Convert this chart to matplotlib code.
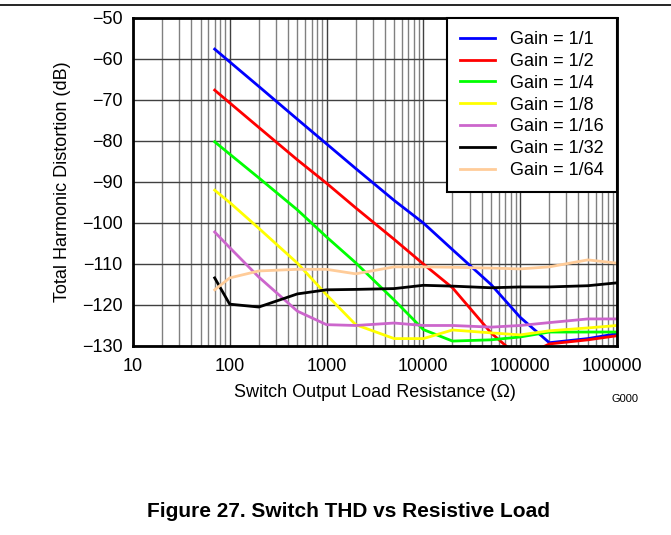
import numpy as np
import matplotlib
matplotlib.use("Agg")
import matplotlib.pyplot as plt
from matplotlib.lines import Line2D
from matplotlib.transforms import Bbox
from matplotlib.ticker import LogLocator, NullFormatter, FixedLocator, FixedFormatter

plt.rcParams['font.family'] = ['Liberation Sans', 'DejaVu Sans']

# load resistance (ohm)
resistance = [70, 100, 200, 500, 1000, 2000, 5000, 10000, 20000,
              50000, 100000, 200000, 500000, 1000000]

thd_1_1 = [-57.6, -60.7, -66.7, -74.7, -80.7, -86.7, -94.5, -100.0, -106.5,
           -115.0, -123.0, -129.2, -128.2, -127.0]
thd_1_2 = [-67.6, -70.7, -76.7, -84.6, -90.3, -96.3, -104.0, -110.0, -115.8,
           -126.8, -133.0, -129.5, -128.5, -127.5]
thd_1_4 = [-80.2, -83.2, -89.0, -96.8, -103.4, -109.7, -118.8, -126.0, -128.8,
           -128.5, -127.8, -126.6, -126.6, -126.6]
thd_1_8 = [-92.0, -95.0, -101.3, -109.8, -117.5, -124.8, -128.2, -128.2, -126.1,
           -126.8, -127.3, -126.3, -125.6, -125.0]
thd_1_16 = [-102.2, -106.0, -113.2, -121.5, -124.8, -125.0, -124.4, -125.0, -125.0,
            -125.4, -125.0, -124.3, -123.4, -123.4]
thd_1_32 = [-113.4, -119.8, -120.5, -117.3, -116.3, -116.2, -116.0, -115.2, -115.4,
            -115.8, -115.6, -115.6, -115.3, -114.6]
thd_1_64 = [-116.3, -113.4, -111.7, -111.3, -111.3, -112.4, -110.7, -110.7, -110.8,
            -111.0, -111.2, -110.7, -109.0, -109.8]

series = [thd_1_1, thd_1_2, thd_1_4, thd_1_8, thd_1_16, thd_1_32, thd_1_64]
labels = ['Gain = 1/1', 'Gain = 1/2', 'Gain = 1/4', 'Gain = 1/8',
          'Gain = 1/16', 'Gain = 1/32', 'Gain = 1/64']
colors = ['#0000ff', '#ff0000', '#00ff00', '#ffff00', '#cc66cc', '#000000', '#ffcc99']

x_ticks = [10, 100, 1000, 10000, 100000, 1000000]
x_labels = ['10', '100', '1000', '10000', '100000', '1000000']
y_ticks = list(range(-130, -49, 10))

fs = 13

fig = plt.figure(figsize=(6.71, 5.35), dpi=100)
ax = fig.add_axes([0.198, 0.3533, 0.7215, 0.6131])

for y, lab, c in zip(series, labels, colors):
    ax.plot(resistance, y, color=c, lw=2, label=lab, zorder=3)

ax.set_xscale('log')
ax.set_xlim(10, 1000000)
ax.set_ylim(-130, -50)
ax.xaxis.set_major_locator(FixedLocator(x_ticks))
ax.xaxis.set_major_formatter(FixedFormatter(x_labels))
ax.xaxis.set_minor_locator(LogLocator(base=10, subs=np.arange(2, 10)))
ax.xaxis.set_minor_formatter(NullFormatter())
ax.set_yticks(y_ticks)
ax.set_yticklabels([str(v).replace('-', '\u2212') for v in y_ticks])

ax.grid(which='major', color='#404040', lw=1)
ax.grid(which='minor', axis='x', color='#808080', lw=1)
ax.tick_params(which='both', length=0, labelsize=fs)
ax.tick_params(axis='y', pad=7.5)
ax.tick_params(axis='x', pad=8.5)
for s in ax.spines.values():
    s.set_linewidth(2)
    s.set_zorder(5)

ax.set_xlabel('Switch Output Load Resistance (\u03a9)', fontsize=fs, labelpad=6.5)
ax.set_ylabel('Total Harmonic Distortion (dB)', fontsize=fs, labelpad=8)

leg = ax.legend(loc='upper right', borderaxespad=0, fontsize=fs, fancybox=False,
                framealpha=1, edgecolor='black', handlelength=1.95,
                labelspacing=0.27, borderpad=0.72, handletextpad=0.85)
leg.get_frame().set_linewidth(1.5)
leg.set_zorder(6)

# the last x tick label is cut off in the original
clip = Bbox.from_extents(0, 0, 642, 535)
for t in ax.get_xticklabels():
    t.set_clip_on(True)
    t.set_clip_box(clip)

fig.add_artist(Line2D([0, 1], [1 - 5 / 535] * 2, color='black', lw=1.2))
fig.text(0.931, 0.255, 'G000', fontsize=8, ha='center', va='center')
fig.text(0.519, 0.043, 'Figure 27. Switch THD vs Resistive Load',
         fontsize=15, fontweight='bold', ha='center', va='center')

fig.savefig('out.png', dpi=100)
